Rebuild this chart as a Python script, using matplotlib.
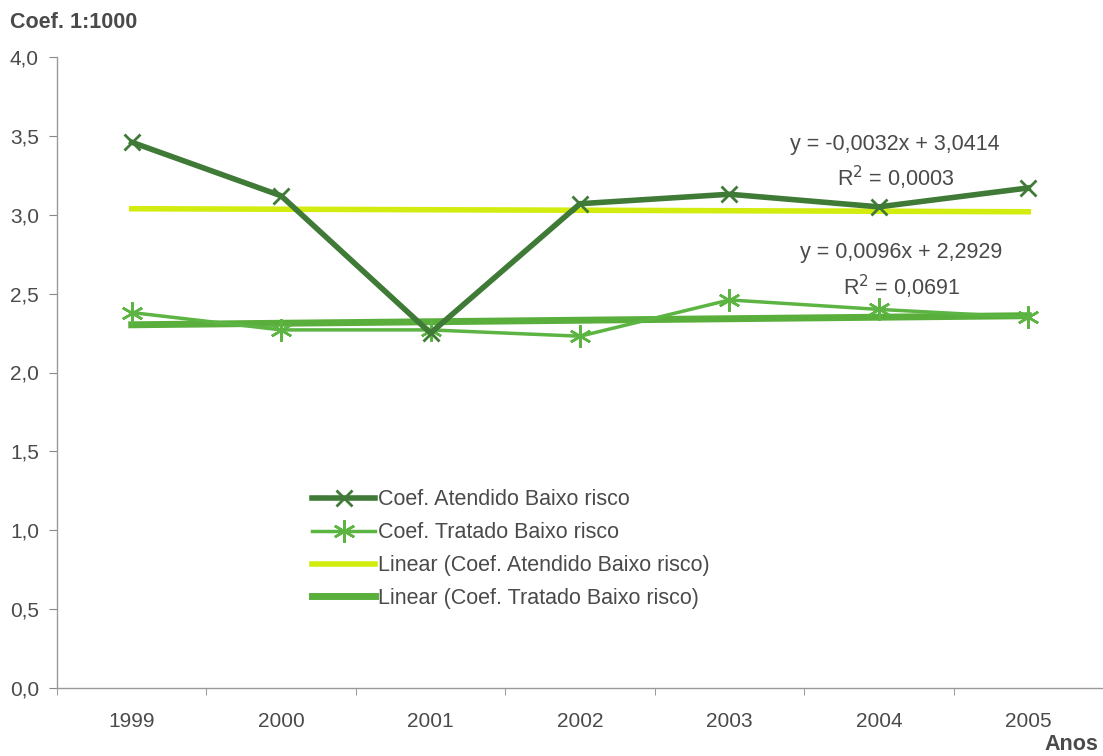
import matplotlib
matplotlib.use("Agg")
import matplotlib.pyplot as plt
import numpy as np

years = ["1999", "2000", "2001", "2002", "2003", "2004", "2005"]
atendido = [3.46, 3.12, 2.25, 3.07, 3.13, 3.05, 3.17]
tratado = [2.38, 2.27, 2.27, 2.23, 2.46, 2.40, 2.35]
trend_slope = [-0.0032, 0.0096]
trend_intercept = [3.0414, 2.2929]
eq_texts = ["y = -0,0032x + 3,0414\nR$^2$ = 0,0003", "y = 0,0096x + 2,2929\nR$^2$ = 0,0691"]
yticks = [0.0, 0.5, 1.0, 1.5, 2.0, 2.5, 3.0, 3.5, 4.0]

plt.rcParams['font.family'] = ['Liberation Sans', 'DejaVu Sans']

fig = plt.figure(figsize=(11.03, 7.56), dpi=100)
L, R, T, B = 57, 1103, 57, 688
ax = fig.add_axes([L/1103, 1-B/756, (R-L)/1103, (B-T)/756])

x = np.arange(1, len(years)+1)
c_at = "#3f7a36"
c_tr = "#5cb443"
c_lat = "#d2ec10"
c_ltr = "#5aaf3c"
tc = "#4a4a4a"

ax.plot(x, atendido, color=c_at, lw=4, marker="x", ms=11, mew=2, label="Coef. Atendido Baixo risco", zorder=4)
ax.plot(x, tratado, color=c_tr, lw=2.5, marker=(6, 2, 0), ms=16, mew=1.8, label="Coef. Tratado Baixo risco", zorder=3)
ax.plot(x, trend_slope[0]*x + trend_intercept[0], color=c_lat, lw=4, label="Linear (Coef. Atendido Baixo risco)", zorder=2)
ax.plot(x, trend_slope[1]*x + trend_intercept[1], color=c_ltr, lw=5, label="Linear (Coef. Tratado Baixo risco)", zorder=2)

ax.set_xlim(0.5, 0.5 + (R-L)/150)
ax.set_ylim(0, 4.0)
ax.set_yticks(yticks)
ax.set_yticklabels([f"{v:.1f}".replace(".", ",") for v in yticks])
ax.set_xticks(x)
ax.set_xticklabels(years)
ax.set_xticks(np.arange(0.5, 7.6, 1.0), minor=True)
ax.tick_params(axis='x', which='major', length=0, pad=17, labelsize=15, labelcolor=tc)
ax.tick_params(axis='x', which='minor', length=5, color="#888888", direction='out')
ax.tick_params(axis='y', length=6, color="#888888", labelsize=15, labelcolor=tc, pad=7)
for s in ["top", "right"]:
    ax.spines[s].set_visible(False)
for s in ["left", "bottom"]:
    ax.spines[s].set_color("#999999")
    ax.spines[s].set_linewidth(1)

ax.text(6.11, 3.33, eq_texts[0], ha="center", va="center", fontsize=15.5, color=tc, linespacing=1.4)
ax.text(6.15, 2.64, eq_texts[1], ha="center", va="center", fontsize=15.5, color=tc, linespacing=1.4)

fig.text(10/1103, 1-22/756, "Coef. 1:1000", fontsize=15.5, fontweight="bold", color=tc, va="center")
fig.text(1098/1103, 1-745/756, "Anos", fontsize=15.5, fontweight="bold", color=tc, va="center", ha="right")

leg = ax.legend(loc="upper left", bbox_to_anchor=((293-L)/(R-L), (B-470)/(B-T)), frameon=False,
                fontsize=15.5, handlelength=2.9, handletextpad=0.15, labelspacing=0.55, labelcolor=tc,
                borderpad=0.4)

fig.savefig("out.png", dpi=100)
